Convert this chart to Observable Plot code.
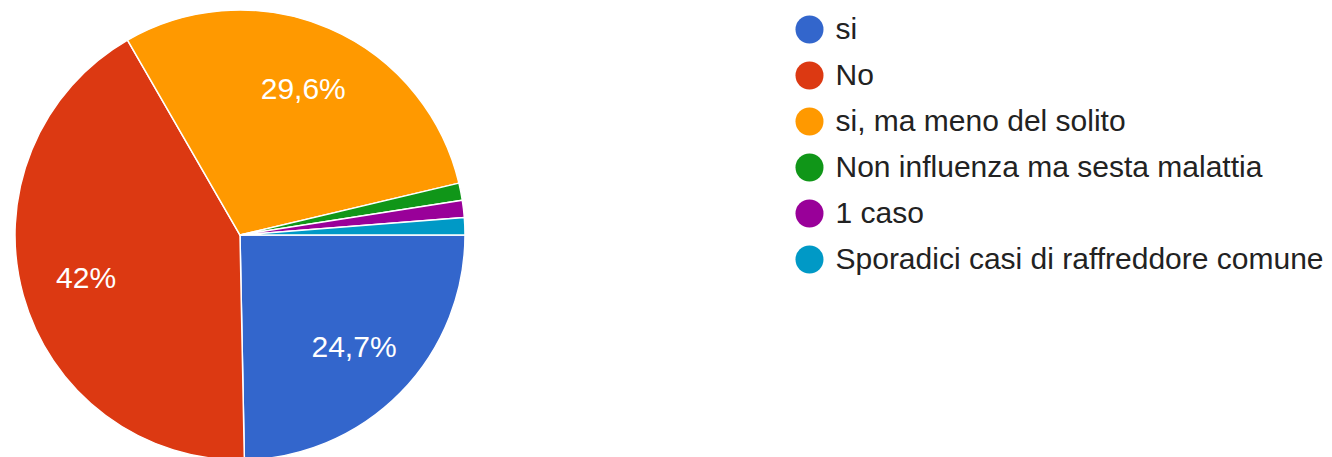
<!DOCTYPE html>
<html>
<head>
<meta charset="utf-8">
<script src="https://cdn.jsdelivr.net/npm/d3@7"></script>
<script src="https://cdn.jsdelivr.net/npm/@observablehq/plot@0.6"></script>
<style>
  html, body { margin: 0; padding: 0; background: #fff; }
  #chart svg { display: block; }
</style>
</head>
<body>
<div id="chart"></div>
<script>
// Data (81 responses)
const categories = ["si", "No", "si, ma meno del solito", "Non influenza ma sesta malattia", "1 caso", "Sporadici casi di raffreddore comune"];
const counts = [20, 34, 24, 1, 1, 1];
const percentLabels = ["24,7%", "42%", "29,6%", "", "", ""];
const colors = ["#3366cc", "#dc3912", "#ff9900", "#109618", "#990099", "#0099c6"];

const data = categories.map((c, i) => ({label: c, count: counts[i], pct: percentLabels[i]}));

const W = 1332, H = 457;
const cx = 240, cy = 235, R = 225;
const font = "'Liberation Sans', Arial, sans-serif";

function pieMark(...args) {
  const scales = args.find(a => a && typeof a.color === "function");
  const colorOf = scales ? scales.color : (l => colors[categories.indexOf(l)]);
  const pie = d3.pie().value(d => d.count).sort(null)
    .startAngle(Math.PI / 2).endAngle(Math.PI / 2 + 2 * Math.PI);
  const arcs = pie(data);
  const arc = d3.arc().innerRadius(0).outerRadius(R);
  const labelArc = d3.arc().innerRadius(R * 0.71).outerRadius(R * 0.71);
  const svgNS = "http://www.w3.org/2000/svg";
  const g = document.createElementNS(svgNS, "g");
  g.setAttribute("transform", `translate(${cx},${cy})`);
  for (const a of arcs) {
    const p = document.createElementNS(svgNS, "path");
    p.setAttribute("d", arc(a));
    p.setAttribute("fill", colorOf(a.data.label));
    p.setAttribute("stroke", "#fff");
    p.setAttribute("stroke-width", "1.5");
    p.setAttribute("stroke-linejoin", "round");
    g.appendChild(p);
  }
  for (const a of arcs) {
    if (!a.data.pct) continue;
    const [lx, ly] = labelArc.centroid(a);
    const t = document.createElementNS(svgNS, "text");
    t.setAttribute("x", lx);
    t.setAttribute("y", ly);
    t.setAttribute("dy", "0.35em");
    t.setAttribute("text-anchor", "middle");
    t.setAttribute("fill", "#ffffff");
    t.setAttribute("font-family", font);
    t.setAttribute("font-size", "30");
    t.textContent = a.data.pct;
    g.appendChild(t);
  }
  return g;
}

const chart = Plot.plot({
  width: W,
  height: H,
  margin: 0,
  style: {background: "#fff", fontFamily: font},
  y: {type: "point", domain: categories, range: [27, 260], padding: 0, axis: null},
  color: {domain: categories, range: colors},
  marks: [
    pieMark,
    Plot.dot(data, {y: "label", fill: "label", r: 14, frameAnchor: "left", dx: 809}),
    Plot.text(data, {y: "label", text: "label", frameAnchor: "left", dx: 835, textAnchor: "start",
      fontSize: 30, fill: "#222", fontFamily: font})
  ]
});
document.getElementById("chart").appendChild(chart);
</script>
</body>
</html>
